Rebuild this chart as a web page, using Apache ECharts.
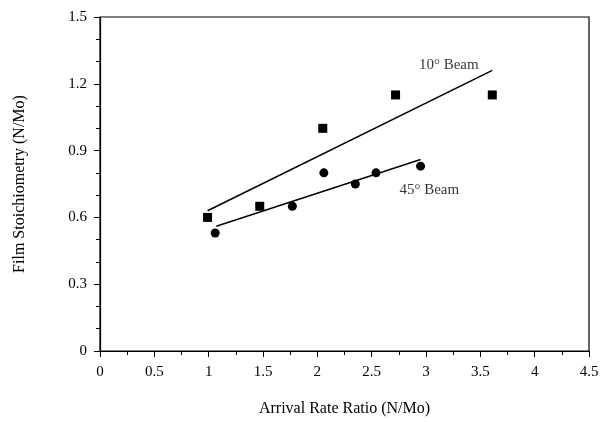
<!DOCTYPE html>
<html>
<head>
<meta charset="utf-8">
<script src="https://cdn.jsdelivr.net/npm/echarts@6/dist/echarts.min.js"></script>
<style>
  html, body { margin: 0; padding: 0; background: #fff; }
  #chart { width: 608px; height: 422px; }
</style>
</head>
<body>
<div id="chart"></div>
<script>
// data
var beam10Pts = [[0.99, 0.60], [1.47, 0.65], [2.05, 1.00], [2.72, 1.15], [3.61, 1.15]];
var beam45Pts = [[1.06, 0.53], [1.77, 0.65], [2.06, 0.80], [2.35, 0.75], [2.54, 0.80], [2.95, 0.83]];
var beam10Fit = [[0.99, 0.63], [3.61, 1.26]];
var beam45Fit = [[1.07, 0.56], [2.95, 0.86]];
var labelPts = [
  { name: '10° Beam', value: [3.21, 1.285] },
  { name: '45° Beam', value: [3.03, 0.725] }
];

var font = 'Liberation Serif';
var myChart = echarts.init(document.getElementById('chart'));

var option = {
  animation: false,
  grid: {
    left: 100, right: 19, top: 17, bottom: 68,
    show: true, borderColor: '#000', borderWidth: 1.2, backgroundColor: 'transparent'
  },
  xAxis: {
    type: 'value', min: 0, max: 4.5, interval: 0.5,
    name: 'Arrival Rate Ratio (N/Mo)', nameLocation: 'middle', nameGap: 50,
    nameTextStyle: { fontFamily: font, fontSize: 16, color: '#000' },
    axisLine: { show: true, lineStyle: { color: '#000', width: 1.2 } },
    axisTick: { show: true, length: 6, lineStyle: { color: '#000' } },
    minorTick: { show: true, splitNumber: 2, length: 4, lineStyle: { color: '#000' } },
    splitLine: { show: false },
    axisLabel: { fontFamily: font, fontSize: 15, color: '#000', margin: 14 }
  },
  yAxis: {
    type: 'value', min: 0, max: 1.5, interval: 0.3,
    name: 'Film Stoichiometry (N/Mo)', nameLocation: 'middle', nameGap: 72,
    nameTextStyle: { fontFamily: font, fontSize: 16, color: '#000' },
    axisLine: { show: true, lineStyle: { color: '#000', width: 1.2 } },
    axisTick: { show: true, length: 6, lineStyle: { color: '#000' } },
    minorTick: { show: true, splitNumber: 3, length: 4, lineStyle: { color: '#000' } },
    splitLine: { show: false },
    axisLabel: {
      fontFamily: font, fontSize: 15, color: '#000', margin: 13,
      formatter: function (v) { return v === 0 ? '0' : v.toFixed(1); }
    }
  },
  series: [
    {
      type: 'scatter', data: beam10Pts, symbol: 'rect', symbolSize: 9,
      itemStyle: { color: '#000', opacity: 1 }
    },
    {
      type: 'scatter', data: beam45Pts, symbol: 'circle', symbolSize: 9,
      itemStyle: { color: '#000', opacity: 1 }
    },
    {
      type: 'line', data: beam10Fit, showSymbol: false,
      lineStyle: { color: '#000', width: 1.5 }
    },
    {
      type: 'line', data: beam45Fit, showSymbol: false,
      lineStyle: { color: '#000', width: 1.5 }
    },
    {
      type: 'scatter', data: labelPts, symbolSize: 0,
      label: {
        show: true, position: 'inside', formatter: '{b}',
        fontFamily: font, fontSize: 15, color: '#000'
      }
    }
  ]
};
myChart.setOption(option);
</script>
</body>
</html>
